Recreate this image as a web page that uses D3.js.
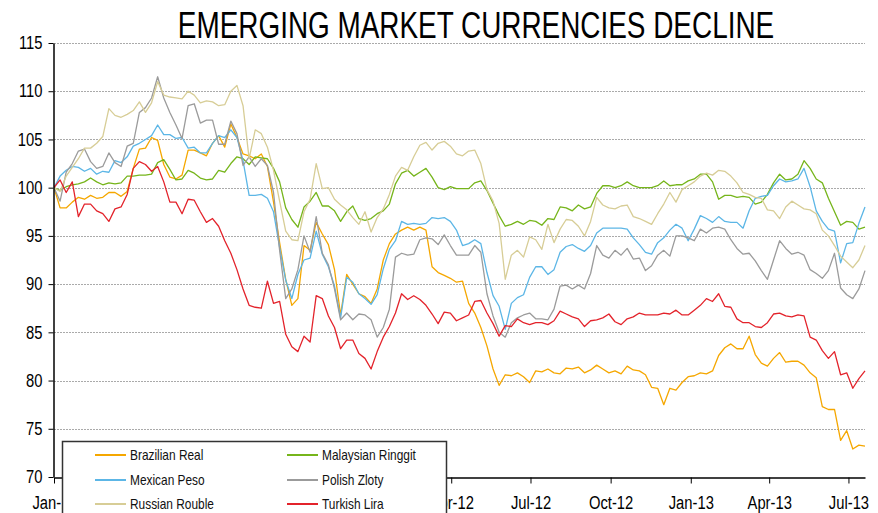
<!DOCTYPE html>
<html>
<head>
<meta charset="utf-8">
<script src="https://cdn.jsdelivr.net/npm/d3@7"></script>
<style>
  body { margin: 0; background: #fff; }
  svg { display: block; font-family: 'Liberation Sans Narrow', 'Arial Narrow', 'Liberation Sans', Arial, sans-serif; }
</style>
</head>
<body>
<div id="chart"></div>
<script>
// weekly observations, index rebased to 100 at 1 Jan 2011
const startDate = new Date(2011, 0, 1);
const weeks = d3.range(134).map(i => d3.timeDay.offset(startDate, 7 * i));

const seriesNames = ["Brazilian Real", "Malaysian Ringgit", "Mexican Peso", "Polish Zloty", "Russian Rouble", "Turkish Lira"];
const seriesColors = ["#f5a700", "#76b51b", "#5cb6e6", "#9b9b9b", "#d7cd96", "#e3232b"];

const brazilianReal = [
  100, 97.9, 97.9, 98.5, 99.0, 98.8, 99.2, 98.9, 99.0, 99.5,
  99.5, 99.1, 99.6, 102.0, 104.0, 104.1, 105.2, 104.9, 102.4, 101.1,
  100.9, 101.3, 103.9, 103.9, 103.6, 103.3, 104.6, 105.4, 104.2, 106.6,
  105.2, 103.5, 103.3, 103.0, 103.5, 102.2, 98.5, 94.3, 90.5, 87.8,
  88.5, 94.0, 93.5, 96.4, 95.2, 94.1, 91.5, 86.8, 91.0, 90.0,
  89.0, 88.7, 88.0, 89.5, 92.5, 94.2, 95.2, 95.6, 95.9, 95.6,
  95.9, 95.6, 91.8, 91.2, 90.9, 90.6, 90.2, 90.3, 88.0, 87.0,
  85.5, 83.6, 81.2, 79.5, 80.6, 80.5, 80.8, 80.4, 79.8, 81.0,
  80.9, 81.2, 80.8, 80.7, 81.3, 81.2, 81.4, 80.8, 81.1, 81.6,
  81.2, 80.8, 81.0, 80.7, 81.5, 81.1, 81.0, 80.6, 79.3, 79.2,
  77.5, 79.2, 79.0, 79.8, 80.4, 80.5, 80.8, 80.7, 81.0, 82.6,
  83.4, 83.8, 83.3, 83.3, 84.6, 82.7, 81.8, 81.5, 82.3, 82.9,
  81.9, 82.0, 82.0, 81.6, 80.8, 80.3, 77.3, 77.0, 77.0, 73.8,
  74.8, 72.9, 73.3, 73.2
];
const malaysianRinggit = [
  100, 99.7, 100.1, 100.3, 100.4, 100.6, 101.0, 100.6, 100.3, 100.5,
  100.4, 100.5, 101.2, 101.2, 101.3, 101.3, 101.4, 102.6, 102.9, 101.9,
  100.8, 100.9, 101.8, 101.5, 101.0, 100.8, 100.9, 101.8, 101.6, 102.5,
  103.2, 103.0, 102.4, 103.2, 103.1, 103.0, 102.0, 100.6, 97.9, 96.7,
  95.9, 98.0, 98.6, 99.5, 98.1, 98.1, 97.6, 96.5, 97.5, 98.1,
  96.8, 96.6, 96.8, 97.3, 97.6, 98.3, 100.4, 101.5, 101.8, 101.2,
  101.6, 102.0, 101.1, 100.0, 99.8, 100.1, 99.9, 99.9, 99.9, 100.5,
  100.7, 99.7, 98.4, 97.1, 96.0, 96.2, 96.5, 96.2, 96.6, 96.5,
  96.1, 96.8, 96.7, 98.0, 97.9, 97.6, 98.2, 97.8, 98.0, 99.4,
  100.2, 100.2, 100.0, 100.2, 100.6, 100.2, 100.0, 100.0, 100.0, 100.2,
  100.7, 100.2, 100.3, 100.3, 100.7, 100.9, 101.4, 101.4, 100.6, 98.8,
  99.2, 99.2, 99.0, 99.1, 99.0, 98.3, 98.5, 99.3, 100.5, 101.4,
  100.8, 100.9, 101.4, 102.8, 102.0, 100.9, 100.5, 98.9, 97.5, 96.1,
  96.5, 96.4, 95.7, 95.9
];
const mexicanPeso = [
  100, 101.2, 101.8, 102.2, 102.1, 101.7, 102.0, 101.4, 101.7, 101.6,
  102.8, 102.6, 103.2, 104.3, 104.6, 105.0, 105.4, 106.5, 105.5, 105.5,
  105.1, 105.2, 104.1, 104.2, 103.6, 103.6, 104.6, 105.4, 105.2, 106.0,
  105.2, 102.8, 99.2, 99.2, 99.3, 98.9, 97.5, 93.8, 90.4, 88.5,
  91.0, 92.5, 92.7, 95.5, 93.1, 91.8, 89.8, 86.5, 90.7, 90.2,
  89.0, 88.5, 87.9, 88.9, 91.6, 93.6, 94.5, 96.5, 96.2, 96.3,
  96.2, 96.3, 96.9, 96.8, 96.9, 96.5, 95.6, 94.0, 94.2, 94.6,
  94.2, 91.2, 88.8, 87.7, 85.3, 88.0, 88.6, 88.9, 90.7, 91.8,
  91.8, 91.0, 91.5, 93.3, 93.9, 94.1, 93.7, 93.4, 94.0, 95.3,
  95.8, 95.8, 95.8, 95.8, 95.7, 94.8, 94.1, 93.3, 93.1, 94.3,
  94.8, 95.6, 96.2, 95.8, 94.5, 95.7, 97.1, 96.8, 96.4, 97.0,
  96.5, 96.4, 96.4, 95.8, 97.6, 98.9, 99.1, 99.2, 100.2, 100.9,
  100.6, 100.7, 100.9, 102.0, 100.1, 97.6, 96.5, 95.7, 95.5, 92.2,
  94.2, 94.3, 96.3, 98.0
];
const polishZloty = [
  100, 98.6, 101.6, 102.5, 103.8, 104.0, 102.7, 102.0, 102.2, 103.6,
  102.6, 102.2, 104.3, 104.6, 107.8, 108.3, 109.3, 111.5, 109.3, 107.8,
  106.5, 105.1, 108.5, 108.7, 106.7, 107.0, 107.0, 104.5, 104.5, 106.9,
  105.6, 102.3, 103.2, 102.2, 103.0, 102.3, 99.5, 93.5, 88.5, 89.5,
  91.5, 95.0, 93.3, 97.0, 93.2, 92.0, 89.5, 86.3, 87.0, 86.3,
  86.9, 86.8, 86.3, 84.5, 85.5, 87.4, 92.8, 93.2, 93.0, 93.1,
  94.6, 94.8, 94.7, 94.1, 95.1, 94.0, 93.0, 93.0, 93.0, 94.0,
  93.3, 89.0, 86.7, 85.0, 84.5, 86.0, 86.5, 86.8, 87.0, 86.4,
  86.4, 86.3, 87.4, 89.8, 89.9, 89.5, 89.9, 89.5, 91.1, 94.0,
  93.0, 92.7, 93.5, 93.0, 93.7, 92.6, 92.7, 91.4, 91.9, 93.0,
  93.5, 92.9, 95.0, 95.0, 94.8, 94.5, 95.7, 95.3, 95.8, 95.9,
  95.7, 94.6, 93.7, 93.1, 93.2, 92.4, 91.4, 90.5, 92.5, 94.5,
  93.7, 93.1, 93.3, 93.0, 91.5, 91.1, 90.6, 91.4, 93.2, 89.6,
  88.9, 88.5, 89.5, 91.4
];
const russianRouble = [
  100, 99.6, 101.2, 102.1, 103.0, 104.1, 104.1, 104.6, 105.3, 108.2,
  107.5, 107.3, 107.6, 108.0, 108.9, 107.8, 108.8, 111.0, 109.6, 109.4,
  109.3, 109.2, 110.0, 109.6, 108.8, 109.0, 108.9, 108.5, 108.6, 110.0,
  110.6, 108.5, 103.0, 106.0, 105.6, 104.2, 101.8, 98.6, 95.5, 94.6,
  94.5, 97.5, 98.8, 102.5, 99.9, 100.0, 98.8, 98.2, 97.7, 96.9,
  96.2, 97.5, 95.4, 96.9, 97.8, 99.3, 101.2, 102.1, 101.8, 103.2,
  104.4, 104.7, 103.9, 104.6, 104.8, 104.3, 103.5, 103.3, 103.8, 103.9,
  102.5, 99.8, 98.6, 96.3, 90.5, 93.0, 93.5, 92.8, 94.9, 94.6,
  93.6, 96.2, 94.3, 95.7, 96.7, 96.6, 96.0, 95.0, 96.5, 99.0,
  98.2, 97.9, 97.8, 98.1, 98.2, 97.0, 96.8, 96.5, 96.2, 97.3,
  98.3, 99.5, 98.5, 99.8, 100.2, 100.6, 101.2, 101.5, 101.3, 101.8,
  101.7, 101.2, 100.5, 99.5, 99.3, 99.0, 98.9, 97.7, 97.6, 96.8,
  98.0, 98.6, 98.2, 97.8, 97.7, 97.3, 95.6, 95.0, 94.0, 92.9,
  92.3, 91.7, 92.5, 94.0
];
const turkishLira = [
  100, 100.8, 99.5, 100.6, 97.0, 98.3, 98.3, 97.6, 97.3, 96.5,
  97.8, 98.0, 99.3, 102.0, 102.7, 102.4, 101.7, 102.2, 100.6, 98.5,
  98.5, 97.3, 98.8, 98.7, 97.5, 96.4, 96.8, 96.0, 94.5, 93.2,
  91.5, 89.5, 87.8, 87.6, 87.5, 90.3, 88.0, 88.2, 84.8, 83.5,
  83.0, 84.6, 84.0, 88.8, 88.5, 86.7, 85.5, 83.3, 84.2, 84.2,
  82.8, 82.3, 81.2, 83.0, 84.5, 85.6, 87.0, 89.0, 88.4, 88.8,
  88.4, 87.8, 86.9, 85.9, 87.1, 87.0, 86.2, 86.5, 86.8, 88.2,
  88.3, 87.0, 85.9, 84.6, 85.7, 85.6, 86.4, 86.0, 85.8, 86.0,
  86.0, 85.8, 86.2, 87.2, 86.9, 86.6, 86.4, 85.6, 86.2, 86.3,
  86.5, 86.9, 86.1, 85.8, 86.4, 86.6, 87.0, 86.8, 86.8, 86.8,
  87.0, 86.9, 87.3, 86.8, 86.8, 87.3, 87.8, 88.5, 88.2, 89.0,
  87.7, 87.6, 86.4, 86.0, 86.0, 85.6, 85.5, 86.0, 86.9, 87.0,
  86.7, 86.6, 86.8, 86.7, 84.5, 84.2, 83.1, 82.3, 83.0, 80.6,
  80.8, 79.2, 80.2, 81.0
];

const xTickLabels = ["Jan-11", "Apr-11", "Jul-11", "Oct-11", "Jan-12", "Apr-12", "Jul-12", "Oct-12", "Jan-13", "Apr-13", "Jul-13"];
const yTicks = [70, 75, 80, 85, 90, 95, 100, 105, 110, 115];

const seriesValues = [brazilianReal, malaysianRinggit, mexicanPeso, polishZloty, russianRouble, turkishLira];
const series = seriesNames.map((name, i) => ({name: name, color: seriesColors[i], values: seriesValues[i]}));

// the original uses a narrow face; squeeze the regular one to about the same width
function condense(sel, f) {
  sel.each(function() {
    const len = this.getComputedTextLength();
    d3.select(this).attr("textLength", len * f).attr("lengthAdjust", "spacingAndGlyphs");
  });
}

// layout
const W = 878, H = 513;
const margin = {top: 43, right: 13, bottom: 36, left: 54};
const width = W - margin.left - margin.right,
      height = H - margin.top - margin.bottom;

const svg = d3.select("#chart")
  .append("svg")
    .attr("width", W)
    .attr("height", H);

svg.append("text")
  .attr("x", 476)
  .attr("y", 38)
  .attr("text-anchor", "middle")
  .attr("font-size", "36px")
  .attr("fill", "#000")
  .text("EMERGING MARKET CURRENCIES DECLINE")
  .call(condense, 0.775);

const g = svg.append("g")
  .attr("transform", `translate(${margin.left}, ${margin.top})`);

const x = d3.scaleTime()
  .domain([startDate, new Date(2013, 6, 20)])
  .range([0, width]);

const y = d3.scaleLinear()
  .domain([70, 115])
  .range([height, 0]);

const parseTick = d3.timeParse("%b-%y");
const xTickDates = xTickLabels.map(parseTick);

// grid lines
g.append("g")
  .selectAll("line")
  .data(yTicks.filter(d => d > 70))
  .join("line")
    .attr("x1", 0)
    .attr("x2", width)
    .attr("y1", d => Math.round(y(d)) + 0.5)
    .attr("y2", d => Math.round(y(d)) + 0.5)
    .attr("stroke", "#aaaaaa")
    .attr("stroke-dasharray", "2,1");

// lines
g.append("clipPath").attr("id", "plot-clip")
  .append("rect").attr("x", 0).attr("y", -5).attr("width", width + 2).attr("height", height + 5);

const line = d3.line()
  .x((d, i) => x(weeks[i]))
  .y(d => y(d));

g.append("g")
  .attr("clip-path", "url(#plot-clip)")
  .selectAll("path")
  .data(series)
  .join("path")
    .attr("fill", "none")
    .attr("stroke", d => d.color)
    .attr("stroke-width", 1.3)
    .attr("stroke-linejoin", "round")
    .attr("d", d => line(d.values));

// Y axis
const yAxis = g.append("g")
  .attr("transform", "translate(-0.5,0)")
  .call(d3.axisLeft(y).tickValues(yTicks).tickSize(5).tickSizeOuter(0).tickPadding(6));
yAxis.select(".domain").attr("stroke", "#000").attr("stroke-width", 1.5);
yAxis.selectAll(".tick line").attr("stroke", "#000");
yAxis.selectAll("text").attr("font-size", "18px").attr("fill", "#000").call(condense, 0.82);

// legend box position (it sits over the plot and the axis labels, as in the original)
const legendBox = {x: 62.5, y: 441.5, w: 384};

// X axis
const xAxis = g.append("g")
  .attr("transform", `translate(0, ${height + 0.5})`)
  .call(d3.axisBottom(x).tickValues(xTickDates).tickSize(6).tickSizeOuter(0)
    .tickFormat((d, i) => xTickLabels[i]));
xAxis.select(".domain").attr("stroke", "#000").attr("stroke-width", 1.5);
xAxis.selectAll(".tick line").attr("stroke", "#000");
xAxis.selectAll("text").attr("font-size", "18px").attr("fill", "#000").attr("y", 19).call(condense, 0.82);
// labels fully covered by the legend box are not visible anyway
xAxis.selectAll(".tick text").filter(function(d) {
  const cx = margin.left + x(d), half = this.getComputedTextLength() / 2;
  return cx - half > legendBox.x && cx + half < legendBox.x + legendBox.w;
}).remove();

const legend = svg.append("g");
legend.append("rect")
  .attr("x", legendBox.x)
  .attr("y", legendBox.y)
  .attr("width", legendBox.w)
  .attr("height", 90)
  .attr("fill", "#fff")
  .attr("stroke", "#333")
  .attr("stroke-width", 1.5);

const legendItem = legend.selectAll("g.item")
  .data(series)
  .join("g")
    .attr("class", "item")
    .attr("transform", (d, i) => `translate(${i % 2 === 0 ? 95 : 287}, ${[455, 480, 504][Math.floor(i / 2)]})`);

legendItem.append("line")
  .attr("x1", 0).attr("x2", 31)
  .attr("stroke", d => d.color)
  .attr("stroke-width", 2);

legendItem.append("text")
  .attr("x", 35)
  .attr("dy", "0.35em")
  .attr("font-size", "14.5px")
  .attr("fill", "#111")
  .text(d => d.name)
  .call(condense, 0.82);
</script>
</body>
</html>
